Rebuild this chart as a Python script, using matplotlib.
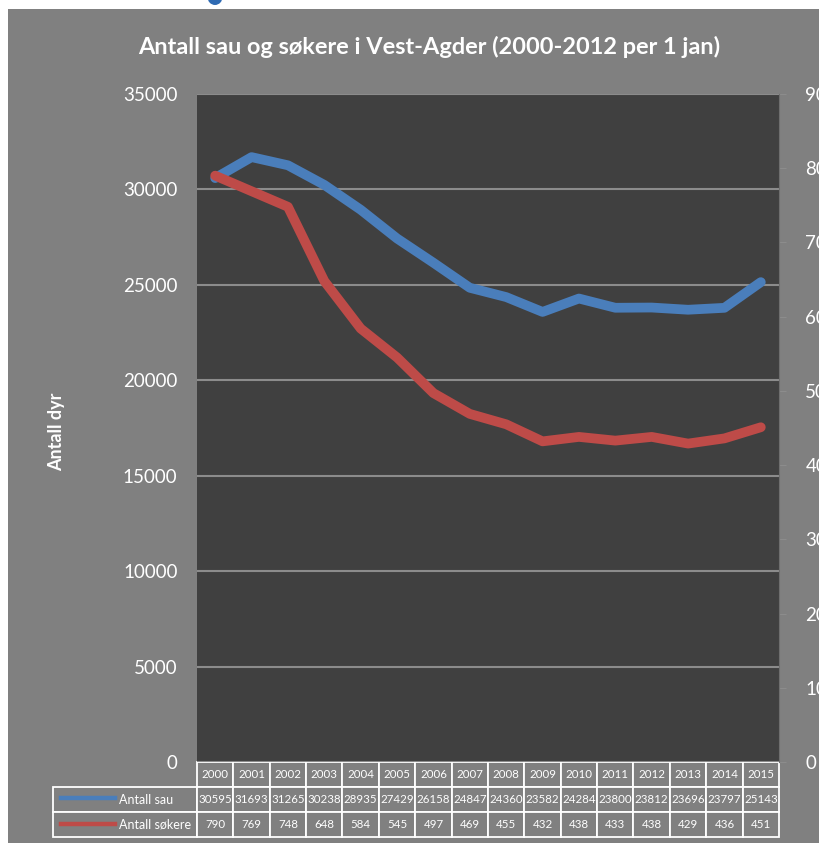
import matplotlib.pyplot as plt
from matplotlib.patches import Rectangle, Ellipse
from matplotlib.lines import Line2D
from matplotlib.table import Table

years = ['2000', '2001', '2002', '2003', '2004', '2005', '2006', '2007',
         '2008', '2009', '2010', '2011', '2012', '2013', '2014', '2015']
sau = [30595, 31693, 31265, 30238, 28935, 27429, 26158, 24847,
       24360, 23582, 24284, 23800, 23812, 23696, 23797, 25143]
sokere = [790, 769, 748, 648, 584, 545, 497, 469,
          455, 432, 438, 433, 438, 429, 436, 451]
series_names = ['Antall sau', 'Antall søkere']
left_ticks = [0, 5000, 10000, 15000, 20000, 25000, 30000, 35000]
right_ticks = [0, 100, 200, 300, 400, 500, 600, 700, 800, 900]

blue = '#4a7ebb'
red = '#be4b48'
bg = '#808080'
plot_bg = '#404040'
grid_c = '#8c8c8c'

plt.rcParams['font.family'] = ['Lato', 'DejaVu Sans']

W, H = 820, 843
fig = plt.figure(figsize=(W / 100, H / 100), dpi=100, facecolor='white')
fig.patches.append(Rectangle((8 / W, 0), 1 - 8 / W, 1 - 9 / H,
                             transform=fig.transFigure, facecolor=bg,
                             edgecolor='none', zorder=-10))
# bit of a blue heading cut off above the chart
fig.patches.append(Ellipse((215 / W, 1 + 3 / H), 15 / W, 16 / H,
                           transform=fig.transFigure, facecolor='#2f6bb3',
                           edgecolor='none'))

# plot area in pixels: x 197..779, y 94..762
ax = fig.add_axes([197 / W, 1 - 762 / H, (779 - 197) / W, (762 - 94) / H])
ax.set_facecolor(plot_bg)
x = list(range(len(years)))
ax.plot(x, sau, color=blue, lw=7, solid_capstyle='round',
        solid_joinstyle='round')
ax.set_xlim(-0.5, len(years) - 0.5)
ax.set_ylim(0, 35000)
ax.set_yticks(left_ticks)
ax.set_yticklabels([str(t) for t in left_ticks])
ax.set_xticks([])
ax.grid(axis='y', color=grid_c, lw=1.5)
ax.set_axisbelow(True)
ax.tick_params(axis='y', length=0, pad=14, labelsize=13.5, labelcolor='white')
for s in ax.spines.values():
    s.set_visible(False)
ax.set_ylabel('Antall dyr', color='white', fontsize=13, fontweight='bold',
              labelpad=0)
ax.yaxis.set_label_coords(-0.227, 0.495)

ax2 = ax.twinx()
ax2.plot(x, sokere, color=red, lw=7, solid_capstyle='round',
         solid_joinstyle='round')
ax2.set_ylim(0, 900)
ax2.set_yticks(right_ticks)
ax2.set_yticklabels([str(t) for t in right_ticks])
ax2.tick_params(axis='y', length=5, color=grid_c, pad=14, labelsize=13.5,
                labelcolor='white')
for s in ax2.spines.values():
    s.set_visible(False)
ax2.spines['right'].set_visible(True)
ax2.spines['right'].set_color('#6e6e6e')

# data table below the plot (bbox covers the data grid, labels hang left)
label_w = (197 - 53) / (779 - 197)
col_w = 1 / len(years)
tbl = Table(ax, bbox=[0, -75 / 668, 1, 75 / 668])
rows = [years, [str(v) for v in sau], [str(v) for v in sokere]]
for r, row in enumerate(rows):
    for c, txt in enumerate(row):
        tbl.add_cell(r, c, width=col_w, height=1 / 3, text=txt, loc='center',
                     facecolor=bg, edgecolor='white')
for r, name in enumerate(series_names, start=1):
    cell = tbl.add_cell(r, -1, width=label_w, height=1 / 3, text=name,
                        loc='left', facecolor=bg, edgecolor='white')
    cell.PAD = (119 - 53) / (197 - 53)
tbl.auto_set_font_size(False)
tbl.set_fontsize(8.3)
for (r, c), cell in tbl.get_celld().items():
    cell.set_linewidth(1.3)
    cell.get_text().set_color('white')
    if c == -1:
        cell.get_text().set_fontsize(9)
ax.add_table(tbl)

# legend keys inside row label cells
for yk, col in [(-0.0539, blue), (-0.0928, red)]:
    ax.add_line(Line2D([-0.2337, -0.1409], [yk, yk], transform=ax.transAxes,
                       color=col, lw=3.2, clip_on=False, zorder=5))

fig.text(0.5 * (138 + 720) / W, 1 - 47 / H,
         'Antall sau og søkere i Vest-Agder (2000-2012 per 1 jan)',
         ha='center', va='center', color='white', fontsize=16.9,
         fontweight='bold')

fig.savefig('out.png', dpi=100, facecolor=fig.get_facecolor())
